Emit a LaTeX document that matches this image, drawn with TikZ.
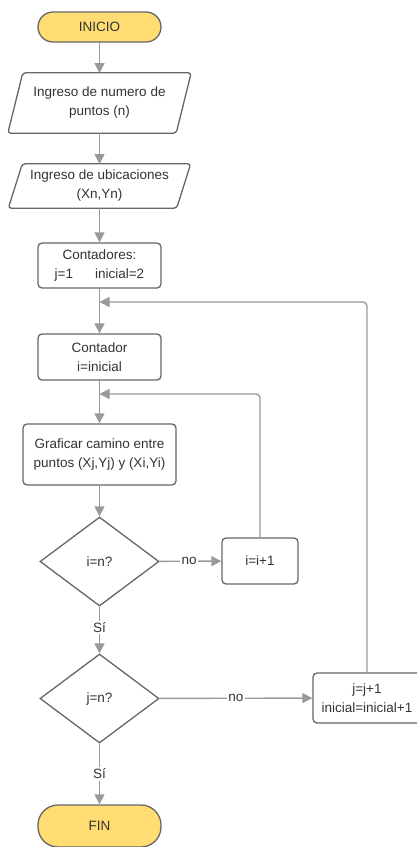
\documentclass[tikz,border=0pt]{standalone}
\usepackage{fontspec}
\setmainfont{Liberation Sans}
\usetikzlibrary{shapes.geometric,arrows.meta,calc}
\definecolor{edge}{HTML}{666666}
\definecolor{wire}{HTML}{999999}
\definecolor{ink}{HTML}{333333}
\definecolor{term}{HTML}{FFDD72}
\tikzset{
  base/.style={font=\fontsize{13.5}{19}\selectfont, text=ink, align=center, inner sep=0pt},
  terminal/.style={base, draw=edge, line width=1.3pt, fill=term, rounded corners=15pt, minimum width=123pt},
  procbox/.style={base, draw=edge, line width=1.3pt, rounded corners=4pt},
  iobox/.style={base, draw=none},
  decision/.style={base, shape=diamond, draw=edge, line width=1.3pt, minimum width=119pt, minimum height=89pt},
  flow/.style={draw=wire, line width=1.4pt, -{Triangle[width=10pt,length=10pt]}},
  tag/.style={base, fill=white, inner sep=1.5pt},
  slant/.style={draw=edge, line width=1.3pt, rounded corners=3pt}
}
\begin{document}
\begin{tikzpicture}[x=1pt,y=-1pt]
\useasboundingbox (0,0) rectangle (417,847);
\clip (0,0) rectangle (417,847);

% start / end
\node[terminal, minimum height=30pt] (ini) at (99.5,27) {INICIO};
\node[terminal, minimum height=42pt, rounded corners=20pt] (fin) at (99.5,826) {FIN};

% input parallelograms
\node[iobox, minimum width=168pt, minimum height=60pt] (in1) at (99.5,103) {Ingreso de numero de\\puntos (n)};
\draw[slant] ($(in1.north west)+(7.5,0)$) -- ($(in1.north east)+(7.5,0)$) -- ($(in1.south east)+(-7.5,0)$) -- ($(in1.south west)+(-7.5,0)$) -- cycle;
\node[iobox, minimum width=168pt, minimum height=44pt] (in2) at (99.5,186) {Ingreso de ubicaciones\\(Xn,Yn)};
\draw[slant] ($(in2.north west)+(7,0)$) -- ($(in2.north east)+(7,0)$) -- ($(in2.south east)+(-7,0)$) -- ($(in2.south west)+(-7,0)$) -- cycle;

% process boxes
\node[procbox, minimum width=123pt, minimum height=45pt] (cont) at (99.5,265.5) {Contadores:\\j=1\hspace{22pt}inicial=2};
\node[procbox, minimum width=123pt, minimum height=46pt] (conti) at (99.5,357) {Contador\\i=inicial};
\node[procbox, minimum width=153pt, minimum height=61pt] (graf) at (99.5,454.5) {Graficar camino entre\\puntos (Xj,Yj) y (Xi,Yi)};
\node[procbox, minimum width=76pt, minimum height=46pt] (inc) at (260,561) {i=i+1};
\node[procbox, minimum width=108pt, minimum height=50pt] (upd) at (367,698) {j=j+1\\inicial=inicial+1};

% decisions
\node[decision] (d1) at (99.5,561.5) {i=n?};
\node[decision] (d2) at (99.5,698.5) {j=n?};

% loop re-entry points on the main line
\coordinate (j1) at (99.5,394);
\coordinate (j2) at (99.5,302);

% main flow
\draw[flow] (ini) -- (99.5,73);
\draw[flow] (99.5,133) -- (99.5,164);
\draw[flow] (99.5,208) -- (cont);
\draw[flow] (cont) -- (conti);
\draw[flow] (conti) -- (graf);
\draw[flow] (graf) -- (d1);
\draw[flow] (d1) -- node[tag, pos=0.48] {no} (inc);
\draw[flow] (d1) -- node[tag, pos=0.45] {Sí} (d2);
\draw[flow] (d2) -- node[tag, pos=0.5] {no} (upd);
\draw[flow] (d2) -- node[tag, pos=0.5] {Sí} (fin);

% loops back
\draw[flow, rounded corners=4pt] (inc.north) |- (j1);
\draw[flow, rounded corners=4pt] (upd.north) |- (j2);
\end{tikzpicture}
\end{document}
